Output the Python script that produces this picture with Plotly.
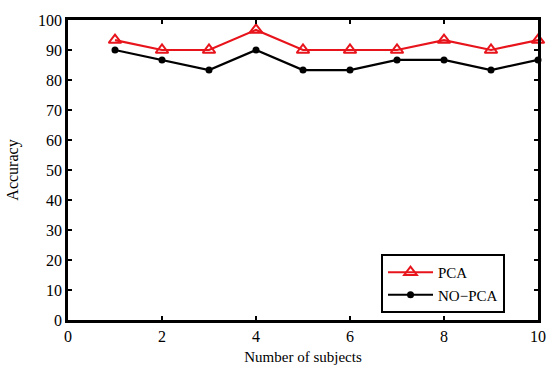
import plotly.graph_objects as go

subjects = [1, 2, 3, 4, 5, 6, 7, 8, 9, 10]
pca = [93.3, 90, 90, 96.7, 90, 90, 90, 93.3, 90, 93.3]
no_pca = [90, 86.7, 83.3, 90, 83.3, 83.3, 86.7, 86.7, 83.3, 86.7]

font_family = "Liberation Serif, Times New Roman, serif"

fig = go.Figure()
fig.add_trace(go.Scatter(
    x=subjects, y=pca, name="PCA", mode="lines+markers",
    line=dict(color="#e8141c", width=2.2),
    marker=dict(symbol="triangle-up-open", size=11, color="#e8141c",
                line=dict(width=2, color="#e8141c")),
    cliponaxis=False,
))
fig.add_trace(go.Scatter(
    x=subjects, y=no_pca, name="NO\u2212PCA", mode="lines+markers",
    line=dict(color="black", width=2.2),
    marker=dict(symbol="circle", size=7, color="black"),
    cliponaxis=False,
))

axis_common = dict(
    showgrid=False, zeroline=False, showline=True, linecolor="black",
    linewidth=2.5, mirror="ticks", ticks="inside", ticklen=4,
    tickwidth=2, tickcolor="black", automargin=False,
    tickfont=dict(family=font_family, size=16, color="black"),
)

fig.update_layout(
    width=550, height=372,
    margin=dict(l=68, r=12, t=20, b=52),
    paper_bgcolor="white", plot_bgcolor="white",
    font=dict(family=font_family, color="black"),
    xaxis=dict(range=[0, 10], tickvals=[0, 2, 4, 6, 8, 10],
               title=dict(text="Number of subjects", font=dict(size=15), standoff=8),
               **axis_common),
    yaxis=dict(range=[0, 100], tickvals=list(range(0, 101, 10)),
               title=dict(text="Accuracy", font=dict(size=16), standoff=16),
               **axis_common),
    legend=dict(x=0.666, y=0.22, xanchor="left", yanchor="top",
                bordercolor="black", borderwidth=2, bgcolor="white",
                font=dict(family=font_family, size=15, color="black"),
                tracegroupgap=0, itemwidth=45),
    showlegend=True,
)

fig.write_html(
    "out.html",
    config={"displayModeBar": False},
    post_script="document.body.style.margin='0';document.body.style.overflow='hidden';",
)
